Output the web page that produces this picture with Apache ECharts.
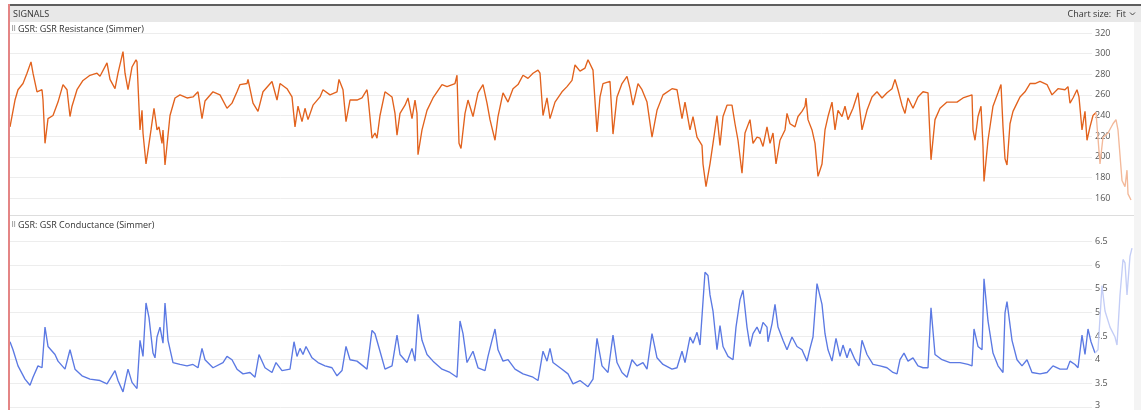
<!DOCTYPE html>
<html>
<head>
<meta charset="utf-8">
<script src="https://cdn.jsdelivr.net/npm/echarts@6/dist/echarts.min.js"></script>
<style>
  html, body { margin: 0; padding: 0; background: #ffffff; }
  #chart { width: 1141px; height: 410px; }
</style>
</head>
<body>
<div id="chart"></div>
<script>
// Elapsed time (s) of each GSR sample and the readings at those times
const resTime = [0,5,8,13,17,21,23,27,32,33,35,38,43,48,53,57,60,62,67,73,80,87,90,97,100,105,108,113,115,118,122,126,127,130,132,133,136,138,141,144,147,149,152,153,155,160,165,170,177,183,188,192,195,203,210,217,222,227,230,237,238,243,248,253,262,267,270,277,282,285,288,292,295,298,303,310,313,320,327,329,333,336,340,347,352,357,358,362,365,367,370,
375,382,385,387,390,395,398,402,405,407,408,412,417,423,432,437,445,447,449,451,455,458,463,468,473,477,480,485,488,493,498,503,508,513,518,523,528,530,533,537,540,545,552,557,562,565,570,575,578,583,587,590,593,600,603,607,612,617,620,623,628,632,637,642,647,653,662,667,672,675,680,683,687,692,693,696,700,703,707,710,713,717,722,725,728,732,735,740,743,747,750,
753,757,760,763,766,770,775,777,780,785,788,792,795,796,798,802,805,808,812,815,818,822,825,828,832,835,838,843,848,852,857,862,867,872,877,882,885,888,892,895,898,903,908,913,918,921,925,930,937,947,953,962,963,965,968,971,973,974,978,983,988,991,993,995,997,1000,1003,1007,1010,1015,1020,1025,1030,1037,1042,1048,1055,1058,1060,1063,1067,1069,1072,1075,1077,1080,1083,1086,
1090,1093,1098,1103,1106,1108,1112,1115,1117,1118,1121];
const resistance = [229,255,265,271,281,292,281,263,265,255,213,237,240,253,270,265,239,249,265,274,279,281,278,291,275,266,281,302,281,265,287,294,292,226,245,223,193,206,226,247,226,229,213,226,192,240,257,260,257,258,263,237,254,263,260,247,252,263,270,271,275,252,244,263,273,255,271,266,258,229,249,234,247,236,250,258,265,260,263,275,265,234,255,255,257,265,258,218,223,218,240,
263,258,242,221,242,250,257,237,255,242,202,226,245,257,270,268,271,279,213,208,242,255,239,262,270,252,236,216,239,262,253,266,270,279,276,281,284,281,240,257,237,253,263,268,274,289,283,286,294,284,224,258,271,273,222,258,271,278,266,250,271,265,253,219,245,260,266,265,237,253,226,239,219,211,193,171,193,213,240,211,239,250,250,232,216,184,223,236,213,219,218,
210,229,213,223,193,216,226,242,232,229,239,244,249,257,236,226,213,181,193,226,239,253,226,245,239,249,236,247,262,226,245,258,263,257,262,266,275,265,250,242,257,247,258,263,262,197,236,247,253,253,257,260,226,216,239,249,210,176,216,249,262,270,229,198,192,232,244,252,258,263,271,271,273,270,260,266,265,268,252,257,265,258,226,244,216,229,240,243,
193,219,223,232,236,226,177,171,187,164,158];

const condTime = [0,3,8,15,20,23,28,32,35,38,45,48,55,60,65,72,80,90,97,105,108,113,118,122,127,130,133,136,139,143,145,147,150,153,155,158,163,170,177,183,188,192,195,203,213,217,222,227,233,240,245,249,255,262,266,272,280,284,287,290,293,296,302,308,315,322,327,332,336,340,347,353,357,362,365,370,
375,382,387,390,397,402,405,408,412,417,423,432,440,447,450,453,457,463,468,475,478,482,485,488,493,498,505,513,523,528,533,537,540,543,552,558,563,570,578,583,587,592,598,603,607,612,617,622,627,633,637,642,647,653,662,667,672,675,680,683,687,690,692,695,698,700,703,707,710,713,718,723,726,730,733,737,740,743,747,750,
753,757,758,762,765,768,773,777,782,787,792,797,800,803,807,812,815,818,822,826,830,833,837,840,845,849,852,857,863,870,877,883,887,890,894,898,903,908,913,918,921,925,932,940,950,958,962,964,968,972,974,978,983,988,993,995,997,1002,1007,1012,1017,1022,1030,1037,1043,1050,1057,1060,1065,1068,1072,1075,1078,1081,1085,
1088,1092,1095,1100,1105,1107,1110,1113,1115,1117,1120,1122];
const conductance = [4.38,4.21,3.87,3.59,3.46,3.63,3.87,3.83,4.69,4.28,4.11,3.97,3.80,4.21,3.80,3.66,3.59,3.56,3.49,3.77,3.56,3.32,3.80,3.52,3.39,4.41,4.07,5.20,4.89,4.14,4.04,4.48,4.69,4.35,5.20,4.41,3.94,3.90,3.87,3.90,3.83,4.24,4.00,3.83,3.94,4.07,4.00,3.80,3.70,3.73,3.63,4.11,3.83,3.73,3.94,3.77,3.80,4.38,4.07,4.24,4.11,4.28,4.04,3.94,3.87,3.83,3.66,3.77,4.28,4.00,3.97,3.87,3.80,4.62,4.55,4.18,
3.80,3.87,4.52,4.11,3.94,4.24,3.97,4.96,4.41,4.11,3.97,3.80,3.73,3.63,4.82,4.55,3.94,4.18,3.83,3.77,4.07,4.41,4.65,4.21,3.97,4.00,3.80,3.70,3.63,3.56,4.18,3.97,4.24,3.94,3.80,3.70,3.49,3.56,3.43,3.59,4.45,3.87,3.73,4.52,3.94,3.73,3.63,4.00,3.87,3.94,3.80,4.55,4.04,3.90,3.80,3.83,4.18,3.94,4.48,4.35,4.58,4.31,4.92,5.85,5.78,5.37,5.03,4.21,4.72,4.28,4.07,4.00,4.69,5.27,5.47,4.69,4.28,4.55,4.69,4.55,
4.79,4.69,4.38,4.76,5.17,4.69,4.41,4.21,4.48,4.28,4.21,3.97,4.24,4.48,5.61,5.17,4.55,4.21,3.97,4.45,4.07,4.31,4.04,4.24,4.00,3.87,4.41,4.11,3.90,3.87,3.83,3.73,3.70,4.00,4.14,3.97,4.04,3.87,3.83,3.83,5.10,4.11,4.00,3.94,3.94,3.90,3.87,4.65,4.28,4.21,5.71,4.82,4.14,3.87,3.73,4.99,5.23,4.41,4.00,3.87,4.00,3.73,3.70,3.73,3.87,3.80,3.80,3.97,3.90,3.83,4.52,4.11,4.65,4.38,4.14,
4.21,5.57,5.03,4.69,4.48,4.31,5.37,6.12,6.05,5.37,6.19,6.36];

const resistanceTicks = [160, 180, 200, 220, 240, 260, 280, 300, 320];
const conductanceTicks = [3, 3.5, 4, 4.5, 5, 5.5, 6, 6.5];

const liveUntil = 1086;     // samples after this time are drawn as a lighter preview
const gridSeconds = 1082;   // gridlines stop here, before the value labels
const plotSeconds = 1124;   // full width of the plotted time range

function splitAtLive(time, values) {
  const solid = [], preview = [];
  time.forEach((t, i) => {
    const p = [t, values[i]];
    if (t <= liveUntil) solid.push(p); else preview.push(p);
  });
  if (solid.length) preview.unshift(solid[solid.length - 1]);
  return { solid, preview };
}

const res = splitAtLive(resTime, resistance);
const cond = splitAtLive(condTime, conductance);

const FONT = '"Open Sans", "Noto Sans", sans-serif';
const labelColor = '#555555';
const labelStart = 39; // distance of the value labels from the plot's right edge

function yAxisFor(gridIndex, ticks, edgeLow) {
  return {
    type: 'value',
    gridIndex,
    position: 'right',
    min: ticks[0],
    max: ticks[ticks.length - 1],
    interval: ticks[1] - ticks[0],
    axisLine: { show: false },
    axisTick: { show: false },
    splitLine: { show: false },
    axisLabel: {
      inside: true,
      margin: labelStart,
      align: 'left',
      color: labelColor,
      fontSize: 9,
      fontFamily: FONT,
      formatter: v => (edgeLow && v === ticks[0]) ? '{edge|' + v + '}' : String(v),
      rich: {
        edge: { fontSize: 9, fontFamily: FONT, color: labelColor, padding: [0, 0, 3, 0] }
      }
    }
  };
}

function xAxisFor(gridIndex) {
  return {
    type: 'value', gridIndex, min: 0, max: plotSeconds,
    show: false, splitLine: { show: false }
  };
}

// horizontal guide lines at each tick, ending before the labels
function guideSeries(idx, ticks) {
  return {
    type: 'line', xAxisIndex: idx, yAxisIndex: idx, data: [], z: 0,
    silent: true, animation: false,
    markLine: {
      z: 0, silent: true, symbol: ['none', 'none'], animation: false,
      label: { show: false },
      lineStyle: { color: '#ededed', width: 1, type: 'solid' },
      emphasis: { disabled: true },
      data: ticks.map(v => [{ coord: [0, v] }, { coord: [gridSeconds, v] }])
    }
  };
}

function lineSeries(idx, data, color) {
  return {
    type: 'line', xAxisIndex: idx, yAxisIndex: idx, data, z: 3,
    showSymbol: false, symbol: 'none', clip: false, animation: false,
    lineStyle: { color, width: 1.35 }, emphasis: { disabled: true }
  };
}

const chart = echarts.init(document.getElementById('chart'), null, { renderer: 'canvas' });

chart.setOption({
  backgroundColor: '#ffffff',
  animation: false,
  grid: [
    { left: 10, width: plotSeconds, top: 33, height: 165 },
    { left: 10, width: plotSeconds, top: 241.5, height: 171 }
  ],
  xAxis: [xAxisFor(0), xAxisFor(1)],
  yAxis: [yAxisFor(0, resistanceTicks, false), yAxisFor(1, conductanceTicks, true)],
  series: [
    guideSeries(0, resistanceTicks),
    guideSeries(1, conductanceTicks),
    lineSeries(0, res.solid, '#e2621d'),
    lineSeries(0, res.preview, '#f3b99a'),
    lineSeries(1, cond.solid, '#5b79e3'),
    lineSeries(1, cond.preview, '#c3cdf6')
  ],
  graphic: [
    // header bar
    { type: 'rect', shape: { x: 8, y: 4, width: 1133, height: 2 }, style: { fill: '#5e5e5e' }, silent: true },
    { type: 'rect', shape: { x: 10, y: 6, width: 1131, height: 16 }, style: { fill: '#e8e8e8' }, silent: true },
    { type: 'text', x: 13, y: 14, style: { text: 'SIGNALS', fill: '#333333', fontSize: 9, fontFamily: FONT, verticalAlign: 'middle' }, silent: true },
    { type: 'text', x: 1126, y: 14, style: { text: 'Chart size:  Fit', fill: '#333333', fontSize: 9, fontFamily: FONT, align: 'right', verticalAlign: 'middle' }, silent: true },
    { type: 'polyline', shape: { points: [[1130, 12.5], [1132.5, 15], [1135, 12.5]] }, style: { stroke: '#444444', lineWidth: 1, fill: null }, silent: true },
    // right gutter
    { type: 'rect', shape: { x: 1134, y: 22, width: 7, height: 388 }, style: { fill: '#f4f4f4' }, silent: true, z: 10 },
    // panel separator
    { type: 'rect', shape: { x: 10, y: 215, width: 1124, height: 1 }, style: { fill: '#dddddd' }, silent: true },
    // time cursor
    { type: 'rect', shape: { x: 8, y: 4, width: 2, height: 406 }, style: { fill: '#e48585' }, silent: true, z: 10 },
    // panel titles
    { type: 'text', x: 11, y: 29, style: { text: '\u283F', fill: '#555555', fontSize: 7, fontFamily: '"DejaVu Sans"', verticalAlign: 'middle' }, silent: true },
    { type: 'text', x: 18, y: 29, style: { text: 'GSR: GSR Resistance (Simmer)', fill: '#333333', fontSize: 9, fontFamily: FONT, verticalAlign: 'middle' }, silent: true },
    { type: 'text', x: 11, y: 225, style: { text: '\u283F', fill: '#555555', fontSize: 7, fontFamily: '"DejaVu Sans"', verticalAlign: 'middle' }, silent: true },
    { type: 'text', x: 18, y: 225, style: { text: 'GSR: GSR Conductance (Simmer)', fill: '#333333', fontSize: 9, fontFamily: FONT, verticalAlign: 'middle' }, silent: true }
  ]
});
</script>
</body>
</html>
